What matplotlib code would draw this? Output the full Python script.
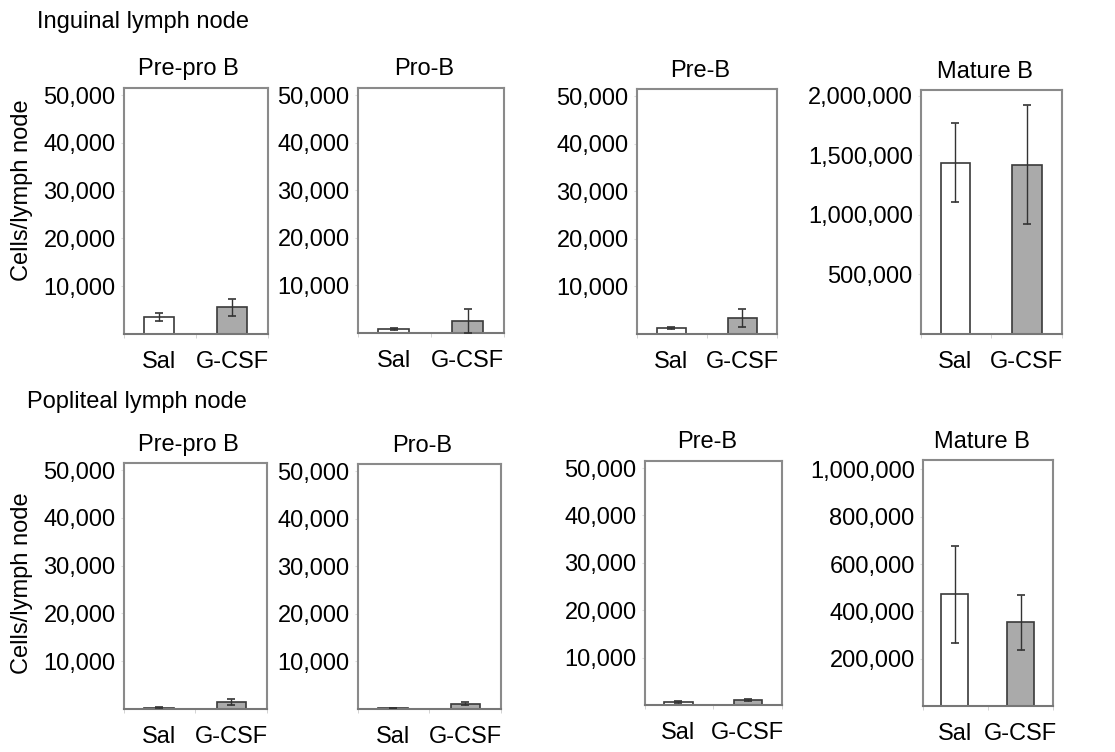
import matplotlib
matplotlib.use("Agg")
import matplotlib.pyplot as plt
from matplotlib.ticker import FuncFormatter
from matplotlib import font_manager

# Condensed sans face if available
_names = {f.name for f in font_manager.fontManager.ttflist}
FONT = ["Liberation Sans Narrow", "Liberation Sans", "DejaVu Sans"]
FONT = [f for f in FONT if f in _names] or ["DejaVu Sans"]
plt.rcParams["font.family"] = FONT

groups = ["Sal", "G-CSF"]
cell_types = ["Pre-pro B", "Pro-B", "Pre-B", "Mature B"]
row_titles = ["Inguinal lymph node", "Popliteal lymph node"]

# Inguinal lymph node: means and SD
inguinal_mean = [[3500, 5600], [900, 2500], [1300, 3300], [1440000, 1420000]]
inguinal_err = [[800, 1800], [200, 2500], [200, 1900], [330000, 500000]]

# Popliteal lymph node: means and SD
popliteal_mean = [[300, 1400], [200, 1100], [600, 1100], [472000, 354000]]
popliteal_err = [[150, 650], [80, 300], [200, 250], [205000, 117000]]

small_ticks = [10000, 20000, 30000, 40000, 50000]
inguinal_mature_ticks = [500000, 1000000, 1500000, 2000000]
popliteal_mature_ticks = [200000, 400000, 600000, 800000, 1000000]

W, H = 1115, 752
fig = plt.figure(figsize=(W / 100, H / 100), dpi=100)

# axes boxes in pixels: left, right, top, bottom
boxes = [
    [(124, 268, 88, 334), (358, 504, 88, 333), (637, 777, 89, 334), (921, 1062, 90, 334)],
    [(124, 267, 463, 709), (358, 501, 464, 709), (645, 782, 461, 705), (923, 1053, 460, 706)],
]

FS = 17
spine_col = "#8a8a8a"
bar_colors = ["white", "#aaaaaa"]
fmt = FuncFormatter(lambda v, p: f"{int(v):,}")

data = [(inguinal_mean, inguinal_err, inguinal_mature_ticks, 2050000),
        (popliteal_mean, popliteal_err, popliteal_mature_ticks, 1040000)]

for r in range(2):
    means, errs, mticks, mtop = data[r]
    for c in range(4):
        l, rr, t, b = boxes[r][c]
        ax = fig.add_axes([l / W, 1 - b / H, (rr - l) / W, (b - t) / H])
        x = [0, 1]
        ax.bar(x, means[c], width=0.41, color=bar_colors, edgecolor="#3a3a3a",
               linewidth=1.2, zorder=2)
        ax.errorbar(x, means[c], yerr=errs[c], fmt="none", ecolor="#333333",
                    elinewidth=1.0, capsize=3, capthick=1.2, zorder=3)
        ax.set_xlim(-0.48, 1.49)
        if c == 3:
            ax.set_ylim(0, mtop)
            ax.set_yticks(mticks)
        else:
            ax.set_ylim(0, 51500)
            ax.set_yticks(small_ticks)
        ax.yaxis.set_major_formatter(fmt)
        ax.set_xticks(x)
        ax.set_xticklabels(groups)
        ax.set_xticks([-0.48, 0.5, 1.49], minor=True)
        ax.tick_params(axis="x", which="major", length=0, pad=12, labelsize=FS)
        ax.tick_params(axis="x", which="minor", length=3, color="#cccccc", direction="out")
        ax.tick_params(axis="y", which="major", length=2, color="#dddddd", pad=4,
                       labelsize=FS)
        for s in ax.spines.values():
            s.set_color(spine_col)
            s.set_linewidth(1.5)
        ax.spines["bottom"].set_color("#777777")
        ax.set_title(cell_types[c], fontsize=FS, x=0.45, pad=9)
        if c == 0:
            yc = 1 - ((t + b) / 2 - 0) / H
            fig.text(22 / W, 1 - (190 if r == 0 else 583) / H, "Cells/lymph node",
                     rotation=90, fontsize=FS, ha="center", va="center")

fig.text(37 / W, 1 - 22 / H, row_titles[0], fontsize=FS, ha="left", va="center")
fig.text(27 / W, 1 - 402 / H, row_titles[1], fontsize=FS, ha="left", va="center")

fig.savefig("out.png", dpi=100, facecolor="white")
